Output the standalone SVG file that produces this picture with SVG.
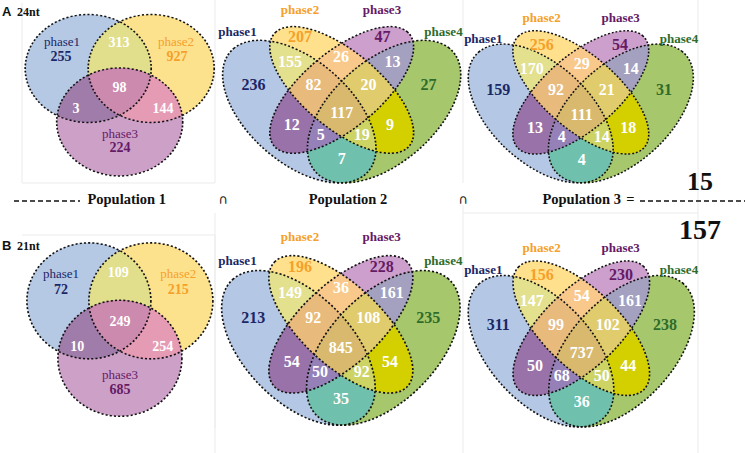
<svg xmlns="http://www.w3.org/2000/svg" xmlns:xlink="http://www.w3.org/1999/xlink" width="745" height="453" viewBox="0 0 745 453">
<style>
.ol4{fill:none;stroke:#111;stroke-width:0.0062;stroke-dasharray:0.0075 0.0075}
.ol3{fill:none;stroke:#111;stroke-width:0.027;stroke-dasharray:0.034 0.034}
.t{font-family:"Liberation Serif","Times New Roman",serif;text-anchor:middle}
.pl{font-size:13px;font-weight:bold}
.pn{font-size:13px}
.n{font-size:16px;font-weight:bold}
.n3{font-size:14px;font-weight:bold}
.w{fill:#fff}
.c1{fill:#1b2766}.c2{fill:#f5a02a}.c3{fill:#651a66}.c4{fill:#2f6b2a}
.pop{font-family:"Liberation Serif","Times New Roman",serif;font-size:14.5px;font-weight:bold;fill:#111}
.cap{font-family:"DejaVu Sans",sans-serif;font-size:13px;fill:#222;text-anchor:middle}
.fr{stroke:#ebebeb;stroke-width:1;fill:none}
.dash{stroke:#111;stroke-width:1.4;stroke-dasharray:5 3}
</style>
<defs>
<circle id="T1" cx="-0.5" cy="-0.33" r="1"/>
<circle id="T2" cx="0.5" cy="-0.33" r="1"/>
<circle id="T3" cx="0" cy="0.66" r="1"/>
<clipPath id="kt1"><use xlink:href="#T1"/></clipPath>
<clipPath id="kt2"><use xlink:href="#T2"/></clipPath>
<clipPath id="kt3"><use xlink:href="#T3"/></clipPath>
<g id="tri">
<use xlink:href="#T1" fill="#b5c9e5"/>
<use xlink:href="#T2" fill="#fde28e"/>
<use xlink:href="#T3" fill="#cda0c8"/>
<g clip-path="url(#kt1)"><use xlink:href="#T2" fill="#e1df8c"/></g>
<g clip-path="url(#kt1)"><use xlink:href="#T3" fill="#a07caa"/></g>
<g clip-path="url(#kt2)"><use xlink:href="#T3" fill="#e69bb4"/></g>
<g clip-path="url(#kt1)"><g clip-path="url(#kt2)"><use xlink:href="#T3" fill="#cc8aae"/></g></g>
<use xlink:href="#T1" class="ol3"/>
<use xlink:href="#T2" class="ol3"/>
<use xlink:href="#T3" class="ol3"/>
</g>
<ellipse id="E1" cx="0.345" cy="0.48" rx="0.355" ry="0.2" transform="rotate(132 0.345 0.48)"/>
<ellipse id="E2" cx="0.5" cy="0.57" rx="0.34" ry="0.15" transform="rotate(135 0.5 0.57)"/>
<ellipse id="E3" cx="0.5" cy="0.57" rx="0.34" ry="0.15" transform="rotate(45 0.5 0.57)"/>
<ellipse id="E4" cx="0.655" cy="0.48" rx="0.355" ry="0.2" transform="rotate(48 0.655 0.48)"/>
<clipPath id="k1"><use xlink:href="#E1"/></clipPath>
<clipPath id="k2"><use xlink:href="#E2"/></clipPath>
<clipPath id="k3"><use xlink:href="#E3"/></clipPath>
<clipPath id="k4"><use xlink:href="#E4"/></clipPath>
<g id="quad">
<use xlink:href="#E1" fill="#b4c7e4"/>
<use xlink:href="#E4" fill="#a6c76c"/>
<use xlink:href="#E2" fill="#ffe18d"/>
<use xlink:href="#E3" fill="#cc9fcc"/>
<g clip-path="url(#k1)"><use xlink:href="#E2" fill="#e3e08e"/></g>
<g clip-path="url(#k1)"><use xlink:href="#E3" fill="#9a72aa"/></g>
<g clip-path="url(#k1)"><use xlink:href="#E4" fill="#6fc0ad"/></g>
<g clip-path="url(#k2)"><use xlink:href="#E3" fill="#f9c98c"/></g>
<g clip-path="url(#k2)"><use xlink:href="#E4" fill="#d4d000"/></g>
<g clip-path="url(#k3)"><use xlink:href="#E4" fill="#a3a0c0"/></g>
<g clip-path="url(#k1)"><g clip-path="url(#k2)"><use xlink:href="#E3" fill="#e8ba7c"/></g></g>
<g clip-path="url(#k1)"><g clip-path="url(#k2)"><use xlink:href="#E4" fill="#cdd464"/></g></g>
<g clip-path="url(#k1)"><g clip-path="url(#k3)"><use xlink:href="#E4" fill="#9580b8"/></g></g>
<g clip-path="url(#k2)"><g clip-path="url(#k3)"><use xlink:href="#E4" fill="#e0cc6c"/></g></g>
<g clip-path="url(#k1)"><g clip-path="url(#k2)"><g clip-path="url(#k3)"><use xlink:href="#E4" fill="#d8b96e"/></g></g></g>
<use xlink:href="#E1" class="ol4"/>
<use xlink:href="#E2" class="ol4"/>
<use xlink:href="#E3" class="ol4"/>
<use xlink:href="#E4" class="ol4"/>
</g>
</defs>
<rect width="745" height="453" fill="#fff"/>
<g id="frames">
<path class="fr" d="M22,3V183H215V0M463,0V183M698,0V453M22,235H215V428M215,213V453M463,205V453M463,213H698"/>
</g>
<g id="panelA1">
<use xlink:href="#tri" transform="translate(119.7,86.3) scale(63,54)"/>
<text x="2" y="16" font-family="Liberation Sans,Arial,sans-serif" font-weight="bold" font-size="13" fill="#111">A</text>
<text x="17" y="16" font-family="Liberation Serif,serif" font-weight="bold" font-size="12" fill="#111">24nt</text>
<text class="t pn c1" x="62" y="45.5">phase1</text>
<text class="t n3 c1" x="61" y="61">255</text>
<text class="t n3 w" x="119" y="46.5">313</text>
<text class="t pn c2" x="176" y="45.5">phase2</text>
<text class="t n3 c2" x="177" y="61">927</text>
<text class="t n3 w" x="119.5" y="91.5">98</text>
<text class="t n3 w" x="76" y="112.5">3</text>
<text class="t n3 w" x="163" y="112.5">144</text>
<text class="t pn c3" x="120" y="138">phase3</text>
<text class="t n3 c3" x="120" y="152">224</text>
</g>
<g id="panelA2">
<use xlink:href="#quad" transform="translate(204.9,227.3) scale(273.6,-241)"/>
<text class="t pl c1" x="237.5" y="36">phase1</text>
<text class="t pl c2" x="300" y="13.5">phase2</text>
<text class="t pl c3" x="382" y="13.5">phase3</text>
<text class="t pl c4" x="443.5" y="36">phase4</text>
<text class="t n c2" x="300" y="42">207</text>
<text class="t n c3" x="382.5" y="42">47</text>
<text class="t n w" x="290" y="67">155</text>
<text class="t n w" x="341" y="62">26</text>
<text class="t n w" x="392.5" y="67">13</text>
<text class="t n c1" x="253.5" y="90">236</text>
<text class="t n w" x="313.5" y="90">82</text>
<text class="t n w" x="368.5" y="90">20</text>
<text class="t n c4" x="428.5" y="90">27</text>
<text class="t n w" x="341.7" y="117.5">117</text>
<text class="t n w" x="291.7" y="130">12</text>
<text class="t n w" x="390" y="130">9</text>
<text class="t n w" x="320.7" y="139.5">5</text>
<text class="t n w" x="361.7" y="139.5">19</text>
<text class="t n w" x="341.7" y="164">7</text>
</g>
<g id="panelA3">
<use xlink:href="#quad" transform="translate(451.5,226.1) scale(258.6,-234.6)"/>
<text class="t pl c1" x="483.3" y="43.3">phase1</text>
<text class="t pl c2" x="541.7" y="21.7">phase2</text>
<text class="t pl c3" x="620.7" y="21.7">phase3</text>
<text class="t pl c4" x="679" y="43.3">phase4</text>
<text class="t n c2" x="541.7" y="49.5">256</text>
<text class="t n c3" x="620" y="49.5">54</text>
<text class="t n w" x="531.7" y="73.5">170</text>
<text class="t n w" x="581.7" y="68.5">29</text>
<text class="t n w" x="630.7" y="73.5">14</text>
<text class="t n c1" x="498.3" y="94.5">159</text>
<text class="t n w" x="556" y="94.5">92</text>
<text class="t n w" x="606.7" y="94.5">21</text>
<text class="t n c4" x="664" y="94.5">31</text>
<text class="t n w" x="581.7" y="120">111</text>
<text class="t n w" x="535" y="132.5">13</text>
<text class="t n w" x="628.3" y="132.5">18</text>
<text class="t n w" x="561.7" y="142">4</text>
<text class="t n w" x="601.7" y="142">14</text>
<text class="t n w" x="581.7" y="165">4</text>
</g>
<g id="populationRow">
<line class="dash" x1="14" y1="201" x2="80" y2="201"/>
<text class="pop" x="126.7" y="204" text-anchor="middle">Population 1</text>
<text class="cap" x="223" y="204">∩</text>
<text class="pop" x="348" y="204" text-anchor="middle">Population 2</text>
<text class="cap" x="463" y="204">∩</text>
<text class="pop" x="581.7" y="204" text-anchor="middle">Population 3</text>
<text class="pop" x="630.5" y="204" text-anchor="middle">=</text>
<line class="dash" x1="640" y1="201" x2="745" y2="201"/>
<text x="700" y="190" font-family="Liberation Serif,serif" font-weight="bold" font-size="26" text-anchor="middle" fill="#111">15</text>
<text x="700" y="239" font-family="Liberation Serif,serif" font-weight="bold" font-size="28" text-anchor="middle" fill="#111">157</text>
</g>
<g id="panelB1">
<use xlink:href="#tri" transform="translate(119.9,320) scale(62,58)"/>
<text x="2" y="250" font-family="Liberation Sans,Arial,sans-serif" font-weight="bold" font-size="13" fill="#111">B</text>
<text x="17" y="250" font-family="Liberation Serif,serif" font-weight="bold" font-size="12" fill="#111">21nt</text>
<text class="t pn c1" x="61" y="278">phase1</text>
<text class="t n3 c1" x="61" y="294">72</text>
<text class="t n3 w" x="118.3" y="276.7">109</text>
<text class="t pn c2" x="178.3" y="278">phase2</text>
<text class="t n3 c2" x="178.3" y="294">215</text>
<text class="t n3 w" x="120" y="326">249</text>
<text class="t n3 w" x="77.3" y="350.7">10</text>
<text class="t n3 w" x="162.7" y="350.7">254</text>
<text class="t pn c3" x="120" y="378.5">phase3</text>
<text class="t n3 c3" x="120" y="394">685</text>
</g>
<g id="panelB2">
<use xlink:href="#quad" transform="translate(203.9,473.4) scale(273.9,-261.5)"/>
<text class="t pl c1" x="237.5" y="265">phase1</text>
<text class="t pl c2" x="300" y="241">phase2</text>
<text class="t pl c3" x="381.7" y="241">phase3</text>
<text class="t pl c4" x="443.3" y="265">phase4</text>
<text class="t n c2" x="300" y="271.7">196</text>
<text class="t n c3" x="381.7" y="271.7">228</text>
<text class="t n w" x="290" y="298.3">149</text>
<text class="t n w" x="341" y="293.3">36</text>
<text class="t n w" x="391.7" y="298.3">161</text>
<text class="t n c1" x="253.3" y="323.3">213</text>
<text class="t n w" x="313.3" y="323.3">92</text>
<text class="t n w" x="368.3" y="323.3">108</text>
<text class="t n c4" x="428.3" y="323.3">235</text>
<text class="t n w" x="340.7" y="353.3">845</text>
<text class="t n w" x="291.7" y="366.7">54</text>
<text class="t n w" x="390" y="366.7">54</text>
<text class="t n w" x="320" y="376.7">50</text>
<text class="t n w" x="361.7" y="376.7">92</text>
<text class="t n w" x="341" y="404">35</text>
</g>
<g id="panelB3">
<use xlink:href="#quad" transform="translate(451.4,474.1) scale(259.8,-256)"/>
<text class="t pl c1" x="483.3" y="274">phase1</text>
<text class="t pl c2" x="541.7" y="251.7">phase2</text>
<text class="t pl c3" x="620.7" y="251.7">phase3</text>
<text class="t pl c4" x="679" y="274">phase4</text>
<text class="t n c2" x="541.7" y="280">156</text>
<text class="t n c3" x="621" y="280">230</text>
<text class="t n w" x="531.7" y="306">147</text>
<text class="t n w" x="581.7" y="301">54</text>
<text class="t n w" x="630" y="306">161</text>
<text class="t n c1" x="498.3" y="330">311</text>
<text class="t n w" x="556" y="330">99</text>
<text class="t n w" x="607.7" y="330">102</text>
<text class="t n c4" x="665" y="330">238</text>
<text class="t n w" x="581.7" y="358.3">737</text>
<text class="t n w" x="535" y="370.7">50</text>
<text class="t n w" x="628.3" y="370.7">44</text>
<text class="t n w" x="561.7" y="380.7">68</text>
<text class="t n w" x="601.7" y="380.7">50</text>
<text class="t n w" x="581.7" y="406.7">36</text>
</g>
</svg>
